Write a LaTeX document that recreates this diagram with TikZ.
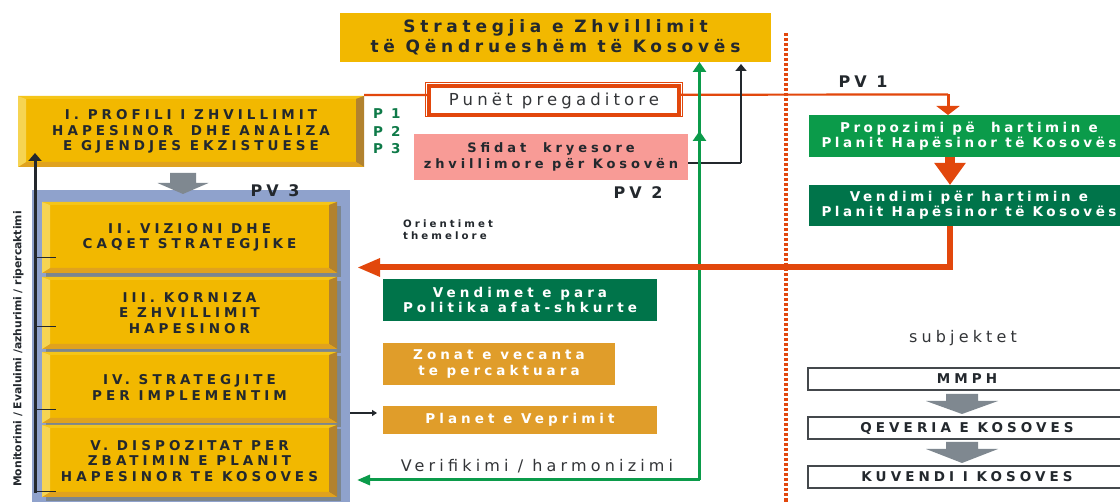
\documentclass[tikz,border=0pt]{standalone}
\usepackage{fontspec}
\setmainfont{DejaVu Sans}
\newfontfamily\bsp[LetterSpace=30]{DejaVu Sans}
\newfontfamily\bspn[LetterSpace=26]{DejaVu Sans}
\newfontfamily\bspt[LetterSpace=25]{DejaVu Sans}
\newfontfamily\bsptop[LetterSpace=28]{DejaVu Sans}
\newfontfamily\rsp[LetterSpace=26]{DejaVu Sans}
\usetikzlibrary{arrows.meta,calc,decorations.markings}
\definecolor{gold}{HTML}{F2B800}
\definecolor{goldL}{HTML}{F6D452}
\definecolor{goldT}{HTML}{F5C518}
\definecolor{goldR}{HTML}{B2822E}
\definecolor{goldB}{HTML}{E0A21E}
\definecolor{panelc}{HTML}{8FA2CC}
\definecolor{shadowg}{HTML}{7C868E}
\definecolor{arrowg}{HTML}{7F8890}
\definecolor{orng}{HTML}{E2470C}
\definecolor{grn}{HTML}{0B9B4A}
\definecolor{dgrn}{HTML}{00744A}
\definecolor{pinkc}{HTML}{F89B96}
\definecolor{tanc}{HTML}{E09D2A}
\definecolor{ink}{HTML}{23282D}
\definecolor{gtext}{HTML}{333538}
\definecolor{pgreen}{HTML}{0E7A48}
\newcommand\blkarrow[6]{% tipx tipy headhalf headlen shafthalf shaftlen
  \fill[arrowg] (#1,#2) -- ++(-#3,-#4) -- ++(#3-#5,0) -- ++(0,-#6) -- ++(2*#5,0) -- ++(0,#6) -- ++(#3-#5,0) -- cycle;}
\tikzset{
  bevel/.style={fill=gold, inner sep=0pt, outer sep=0pt, align=center, text=ink, anchor=north west,
    font=\bsp\bfseries\fontsize{13.5}{15.5}\selectfont,
    path picture={
      \coordinate (bvA) at (path picture bounding box.north west);
      \coordinate (bvB) at (path picture bounding box.north east);
      \coordinate (bvC) at (path picture bounding box.south east);
      \coordinate (bvD) at (path picture bounding box.south west);
      \coordinate (bvE) at ([shift={(8pt,-3pt)}]bvA);
      \coordinate (bvF) at ([shift={(-8pt,-3pt)}]bvB);
      \coordinate (bvG) at ([shift={(-8pt,5pt)}]bvC);
      \coordinate (bvH) at ([shift={(8pt,5pt)}]bvD);
      \fill[goldT] (bvA)--(bvB)--(bvF)--(bvE)--cycle;
      \fill[goldR] (bvB)--(bvC)--(bvG)--(bvF)--cycle;
      \fill[goldB] (bvC)--(bvD)--(bvH)--(bvG)--cycle;
      \fill[goldL] (bvD)--(bvA)--(bvE)--(bvH)--cycle;
    }},
  flat/.style={inner sep=0pt, outer sep=0pt, align=center, anchor=north west,
    font=\bsp\bfseries\fontsize{13.5}{15}\selectfont},
  subj/.style={flat, fill=white, draw=ink!85, line width=1.1pt, text=ink},
  pv/.style={inner sep=0pt, text=ink, font=\bspt\bfseries\fontsize{16}{16}\selectfont},
  gray label/.style={inner sep=0pt, text=gtext, font=\rsp\fontsize{16}{16}\selectfont},
}
\begin{document}
\begin{tikzpicture}[x=1pt,y=-1pt]
\useasboundingbox (0,0) rectangle (1120,502);
\fill[white] (0,0) rectangle (1120,502);

% dotted divider
\draw[orng, line width=4pt, dash pattern=on 3.5pt off 1.5pt] (786,33) -- (786,502);

% top box
\node[fill=gold, anchor=north west, minimum width=431pt, minimum height=49pt, inner sep=0pt, outer sep=0pt,
  align=center, text=ink, font=\bsptop\bfseries\fontsize{17}{20.5}\selectfont] (top) at (340,13)
  {Strategjia e Zhvillimit\\të Qëndrueshëm të Kosovës};

% panel
\node[fill=panelc, inner sep=0pt, outer sep=0pt, anchor=north west, minimum width=318pt, minimum height=320pt] (panel) at (32,190) {};

% shadows of boxes II-V
\fill[shadowg] (46,206) rectangle (341,277);
\fill[shadowg] (46,281) rectangle (341,353);
\fill[shadowg] (46,356) rectangle (341,427);
\fill[shadowg] (46,429) rectangle (341,501);

% bevel boxes
\node[bevel, minimum width=346pt, minimum height=71pt] (b1) at (18,96) {I. PROFILI I ZHVILLIMIT\\HAPESINOR\ \ DHE ANALIZA\\E GJENDJES EKZISTUESE};
\node[bevel, minimum width=295pt, minimum height=71pt] (b2) at (42,202) {II. VIZIONI DHE\\CAQET STRATEGJIKE};
\node[bevel, minimum width=295pt, minimum height=72pt] (b3) at (42,277) {III. KORNIZA\\E ZHVILLIMIT\\HAPESINOR};
\node[bevel, minimum width=295pt, minimum height=71pt] (b4) at (42,352) {IV. STRATEGJITE\\PER IMPLEMENTIM};
\node[bevel, minimum width=295pt, minimum height=72pt] (b5) at (42,425) {V. DISPOZITAT PER\\ZBATIMIN E PLANIT\\HAPESINOR TE KOSOVES};

% gray block arrow I -> panel
\blkarrow{183}{194}{25.5}{11}{13}{10}

\node[pv] (pv3) at (275,191) {PV 3};

% monitoring arrow
\coordinate (mb) at (35,493);
\coordinate (mt) at (35,153);
\draw[ink, line width=3pt, -{Triangle[width=13pt,length=8pt]}] (mb) -- (mt);
\foreach \yy in {257,326,409,491} \draw[ink, line width=0.9pt] (35,\yy) -- (56,\yy);
\node[rotate=90, inner sep=0pt, text=ink, font=\bfseries\fontsize{10.8}{10.8}\selectfont] (mon) at (18.5,349)
  {Monitorimi / Evaluimi /azhurimi / ripercaktimi};

% orange line from box I to Propozimi
\coordinate (oc) at (948,94.5);
\draw[orng, line width=2.2pt] ([yshift=1pt]b1.north east) -- (oc);

% Punet pregaditore
\draw[orng, line width=1pt] (425.5,82.5) rectangle (682.5,116.5);
\node[draw=orng, line width=4pt, fill=white, inner sep=0pt, outer sep=0pt, anchor=north west,
  minimum width=250pt, minimum height=29pt, text=gtext, font=\bspt\fontsize{16.5}{16.5}\selectfont] (pun) at (429,86)
  {Punët pregaditore};

% P1..P3
\node[inner sep=0pt, anchor=west, align=left, text=pgreen, font=\bspt\bfseries\fontsize{13.5}{17.5}\selectfont] (pp) at (373,131.5) {P 1\\P 2\\P 3};

% Sfidat
\node[flat, fill=pinkc, text=ink, minimum width=274pt, minimum height=46pt, font=\bsp\bfseries\fontsize{13}{16}\selectfont] (sfid) at (414,134)
  {Sfidat\ \ kryesore\\zhvillimore për Kosovën};
\node[pv] (pv2) at (638,193) {PV 2};

% black connector Sfidat -> top
\coordinate (bc) at (741,163);
\draw[ink, line width=1.2pt] ([yshift=-6pt]sfid.east) -- (bc);
\draw[ink, line width=2.5pt, shorten >=2pt, -{Triangle[width=11pt,length=7pt]}] (bc) -- (bc |- top.south);

% Orientimet
\node[inner sep=0pt, anchor=north west, align=left, text=ink, font=\bsp\bfseries\fontsize{10.2}{12}\selectfont] (ori) at (403,220)
  {Orientimet\\themelore};

% middle boxes
\node[flat, fill=dgrn, text=white, minimum width=274pt, minimum height=42pt] (vpara) at (383,279)
  {Vendimet e para\\Politika afat-shkurte};
\node[flat, fill=tanc, text=white, minimum width=232pt, minimum height=42pt, font=\bsp\bfseries\fontsize{13.5}{16.5}\selectfont] (zon) at (383,343)
  {Zonat e vecanta\\te percaktuara};
\node[flat, fill=tanc, text=white, minimum width=274pt, minimum height=28pt] (plan) at (383,406)
  {Planet e Veprimit};
\coordinate (sa) at (377,413);
\draw[ink, line width=1.2pt, -{Triangle[width=6pt,length=5pt]}] (panel.east |- sa) -- (sa);

% green connectors
\coordinate (gc) at (699.5,480);
\coordinate (gtip) at (357,480);
\draw[grn, line width=3pt, -{Triangle[width=13pt,length=10pt]},
  postaction={decorate, decoration={markings, mark=at position 0.835 with {\arrow{Triangle[width=13pt,length=10pt]}}}}]
  (gc) -- (gc |- top.south);
\draw[grn, line width=3pt, -{Triangle[width=10pt,length=13pt]}] (gc) -- (gtip);
\node[gray label] (ver) at (537,466) {Verifikimi / harmonizimi};

% right side
\node[pv] (pv1) at (863,82) {PV 1};
\node[flat, fill=grn, text=white, minimum width=320pt, minimum height=42pt, font=\bspn\bfseries\fontsize{13.5}{15}\selectfont] (prop) at (809,115)
  {Propozimi pë\ \ hartimin e\\Planit Hapësinor të Kosovës};
\node[flat, fill=dgrn, text=white, minimum width=320pt, minimum height=41pt, font=\bspn\bfseries\fontsize{13.5}{15}\selectfont] (vend) at (809,185)
  {Vendimi për hartimin e\\Planit Hapësinor\ të Kosovës};

% vertical orange into Propozimi
\draw[orng, line width=3pt, -{Triangle[width=23pt,length=9pt]}] (oc) -- (oc |- prop.north);

\coordinate (pvx) at (950,150);
\draw[orng, line width=10pt, -{Triangle[width=30pt,length=22pt]}] (pvx |- prop.south) -- (pvx |- vend.north);

% thick orange Vendimi -> panel
\coordinate (ovc) at (949.5,267.5);
\coordinate (otip) at (357,267.5);
\draw[orng, line width=6pt, -{Triangle[width=17pt,length=23pt]}] (ovc |- vend.south) -- (ovc) -- (otip);

% subjects
\node[gray label] (subj) at (963,338) {subjektet};
\node[subj, minimum width=318pt, minimum height=22pt] (mmph) at (808,368) {MMPH};
\node[subj, minimum width=318pt, minimum height=22pt] (qev) at (808,417) {QEVERIA E KOSOVES};
\node[subj, minimum width=318pt, minimum height=22pt] (kuv) at (808,466) {KUVENDI I KOSOVES};
\blkarrow{962}{414}{36}{13}{16}{7}
\blkarrow{962}{463}{36}{14}{16}{7}
\end{tikzpicture}
\end{document}
